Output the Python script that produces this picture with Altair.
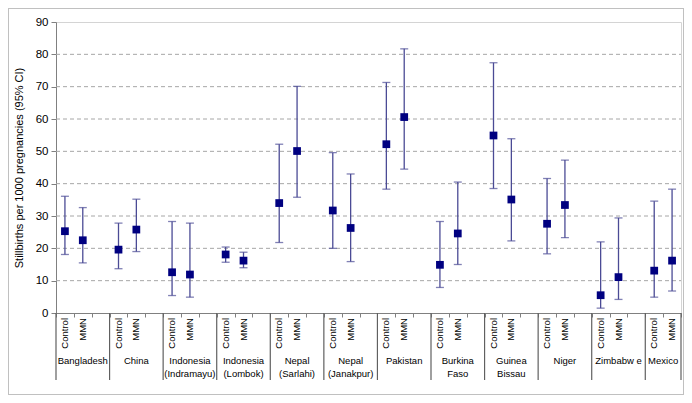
import altair as alt
import pandas as pd

countries = ["Bangladesh", "China", "Indonesia\n(Indramayu)", "Indonesia\n(Lombok)",
             "Nepal\n(Sarlahi)", "Nepal\n(Janakpur)", "Pakistan", "Burkina\nFaso",
             "Guinea\nBissau", "Niger", "Zimbabw e", "Mexico"]
arms = ["Control", "MMN"]

control_est = [25.3, 19.6, 12.6, 18.1, 34.0, 31.7, 52.2, 14.9, 54.9, 27.6, 5.5, 13.1]
control_lo = [18.1, 13.7, 5.4, 15.7, 21.8, 20.0, 38.3, 7.9, 38.5, 18.3, 1.5, 4.9]
control_hi = [36.1, 27.8, 28.3, 20.4, 52.2, 49.6, 71.3, 28.3, 77.4, 41.6, 22.0, 34.6]

mmn_est = [22.5, 25.8, 11.9, 16.2, 50.1, 26.3, 60.6, 24.6, 35.1, 33.4, 11.1, 16.2]
mmn_lo = [15.5, 19.0, 4.9, 14.0, 35.8, 15.9, 44.5, 15.0, 22.3, 23.3, 4.2, 6.8]
mmn_hi = [32.6, 35.2, 27.8, 18.8, 70.1, 43.0, 81.7, 40.5, 53.9, 47.3, 29.4, 38.3]

y_ticks = [0, 10, 20, 30, 40, 50, 60, 70, 80, 90]
grid_vals = [10, 20, 30, 40, 50, 60, 70, 80]

W, H = 625, 291
n_slots = len(countries) * 3 - 1

rows = []
for g, c in enumerate(countries):
    for a, (est, lo, hi) in enumerate([(control_est[g], control_lo[g], control_hi[g]),
                                        (mmn_est[g], mmn_lo[g], mmn_hi[g])]):
        rows.append({"country": c, "arm": arms[a], "x": 3 * g + a + 0.5,
                     "est": est, "lo": lo, "hi": hi})
df = pd.DataFrame(rows)

groups = pd.DataFrame({
    "label": countries,
    "x": [3 * g + min(3, n_slots - 3 * g) / 2 for g in range(len(countries))],
})
seps = pd.DataFrame({"x": [3 * g for g in range(len(countries))] + [n_slots]})
grid = pd.DataFrame({"y": grid_vals})

xs = alt.Scale(domain=[0, n_slots], nice=False, zero=False)
ys = alt.Scale(domain=[0, 90], nice=False)

font = "Liberation Sans"
YT = "Stillbirths per 1000 pregnancies (95% CI)"

x_axis = alt.Axis(values=list(range(n_slots + 1)), labels=False, grid=False, title=None,
                  tickSize=4, tickColor="#808080", domainColor="#808080")
y_axis = alt.Axis(values=y_ticks, grid=False, title=YT,
                  tickSize=5, tickColor="#808080", domainColor="#808080",
                  labelFontSize=11.5, labelColor="#000000", labelPadding=3,
                  labelOverlap=False, labelBound=False, labelFlush=False,
                  titleFontSize=11, titleFontWeight="normal", titleColor="#000000",
                  titlePadding=11, labelFont=font, titleFont=font)


def X(f="x:Q"):
    return alt.X(f, scale=xs, axis=x_axis, title=None)


def Y(f):
    return alt.Y(f, scale=ys, axis=y_axis, title=YT)


gridlayer = alt.Chart(grid).mark_rule(color="#a6a6a6", strokeDash=[4, 3], strokeWidth=1).encode(
    y=Y("y:Q"), x=alt.value(0), x2=alt.value(W),
)

err = alt.Chart(df).mark_rule(color="#4b4b95", strokeWidth=1.3).encode(
    x=X(), y=Y("lo:Q"), y2="hi:Q",
)
cap_lo = alt.Chart(df).mark_tick(color="#4b4b95", orient="horizontal", size=8, thickness=1.3).encode(
    x=X(), y=Y("lo:Q"))
cap_hi = alt.Chart(df).mark_tick(color="#4b4b95", orient="horizontal", size=8, thickness=1.3).encode(
    x=X(), y=Y("hi:Q"))
pts = alt.Chart(df).mark_square(color="#000080", size=60, opacity=1).encode(
    x=X(), y=Y("est:Q"))

slot_lbl = alt.Chart(df).mark_text(angle=270, align="right", baseline="middle",
                                   fontSize=9.5, font=font, color="#000000").encode(
    x=X(), y=alt.value(H + 5), text="arm:N")

sep = alt.Chart(seps).mark_rule(color="#606060", strokeWidth=1.2).encode(
    x=X(), y=alt.value(H), y2=alt.value(H + 67))

grp_lbl = alt.Chart(groups).mark_text(align="center", baseline="middle", lineBreak="\n",
                                      lineHeight=12.5, fontSize=9.5, font=font, color="#000000").encode(
    x=X(), y=alt.value(H + 48), text="label:N")

frame = alt.Chart(grid).mark_rect(fill=None, stroke="#c0c0c0", strokeWidth=1).encode(
    x=alt.value(-47.5), x2=alt.value(W + 2.5), y=alt.value(-13.5), y2=alt.value(H + 81.5))

chart = alt.layer(gridlayer, err, cap_lo, cap_hi, pts, slot_lbl, sep, grp_lbl, frame).properties(
    width=W, height=H,
    padding={"left": 48, "top": 14, "right": 3, "bottom": 82},
    autosize=alt.AutoSizeParams(type="none"),
    background="#ffffff",
).configure_view(stroke="#d4d4d4", strokeWidth=1)

chart.save("out.html", embed_options={"renderer": "svg", "actions": False})
